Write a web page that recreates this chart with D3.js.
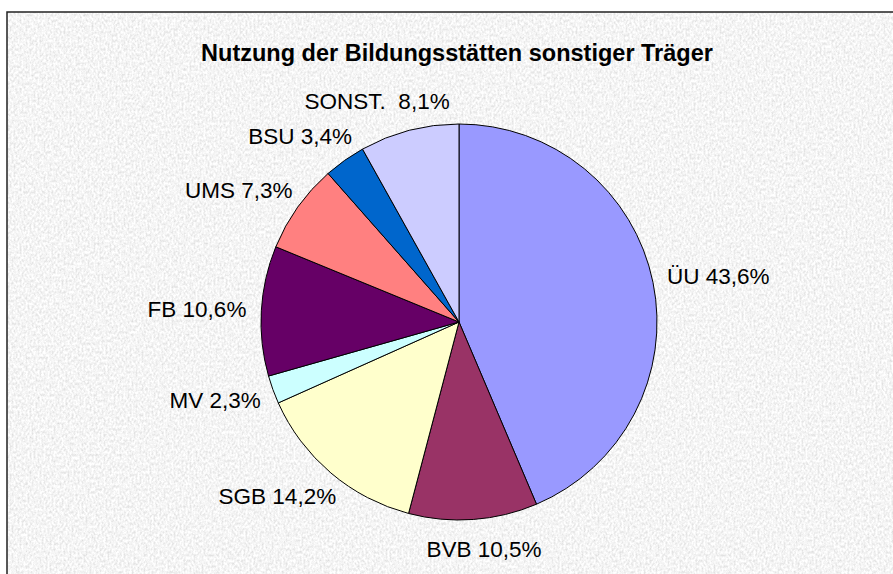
<!DOCTYPE html>
<html>
<head>
<meta charset="utf-8">
<script src="https://cdn.jsdelivr.net/npm/d3@7"></script>
<style>
  body { margin: 0; background: #fff; }
  text { font-family: "Liberation Sans", Arial, sans-serif; fill: #000; }
</style>
</head>
<body>
<div id="chart"></div>
<script>
// DATA
var categories = ['ÜU', 'BVB', 'SGB', 'MV', 'FB', 'UMS', 'BSU', 'SONST. '];
var values = [43.6, 10.5, 14.2, 2.3, 10.6, 7.3, 3.4, 8.1];
var labels = ['43,6%', '10,5%', '14,2%', '2,3%', '10,6%', '7,3%', '3,4%', '8,1%'];
var colors = ['#9999FF', '#993366', '#FFFFCC', '#CCFFFF', '#660066', '#FF8080', '#0066CC', '#CCCCFF'];
var title = 'Nutzung der Bildungsstätten sonstiger Träger';

var W = 893, H = 574;
var cx = 459, cy = 322, R = 198;

var svg = d3.select('#chart').append('svg').attr('width', W).attr('height', H);

// granite like background
var defs = svg.append('defs');
var f = defs.append('filter').attr('id', 'granite')
  .attr('x', 0).attr('y', 0).attr('width', 1).attr('height', 1);
f.append('feTurbulence').attr('type', 'fractalNoise')
  .attr('baseFrequency', '0.5 0.35').attr('numOctaves', 3).attr('seed', 4);
f.append('feColorMatrix').attr('type', 'matrix')
  .attr('values', '0.5 0 0 0 0.66  0.5 0 0 0 0.66  0.5 0 0 0 0.66  0 0 0 0 1');

svg.append('rect').attr('x', 7).attr('y', 12).attr('width', W).attr('height', H)
  .attr('filter', 'url(#granite)');
svg.append('rect').attr('x', 7).attr('y', 12).attr('width', W).attr('height', H)
  .attr('fill', 'none').attr('stroke', '#222').attr('stroke-width', 1.5);

svg.append('text').attr('x', 457).attr('y', 61).attr('text-anchor', 'middle')
  .style('font-size', '23.5px').style('font-weight', 'bold').text(title);

// pie, starting at 12 o'clock, clockwise
var pie = d3.pie().sort(null).value(function(d) { return d; });
var arcs = pie(values);
var arc = d3.arc().innerRadius(0).outerRadius(R);

var g = svg.append('g').attr('transform', 'translate(' + cx + ',' + cy + ')');

g.selectAll('path').data(arcs).enter().append('path')
  .attr('d', arc)
  .attr('fill', function(d, i) { return colors[i]; })
  .attr('stroke', '#000').attr('stroke-width', 1);

// labels outside, box pushed away from the slice edge
var lab = g.selectAll('text.lab').data(arcs).enter().append('text')
  .attr('class', 'lab')
  .style('font-size', '22.5px')
  .style('white-space', 'pre')
  .attr('text-anchor', 'middle')
  .attr('dy', '0.35em')
  .text(function(d, i) { return categories[i] + ' ' + labels[i]; });

lab.each(function(d) {
  var a = (d.startAngle + d.endAngle) / 2;
  var s = Math.sin(a), c = -Math.cos(a);
  var sx = (s < 0 ? -1 : 1) * Math.pow(Math.abs(s), 0.7);
  var w = this.getComputedTextLength() + 10, h = 40;
  var x = (R + 10) * s + sx * w / 2;
  var y = (R + 10) * c + c * h / 2;
  d3.select(this).attr('x', x).attr('y', y);
});
</script>
</body>
</html>
